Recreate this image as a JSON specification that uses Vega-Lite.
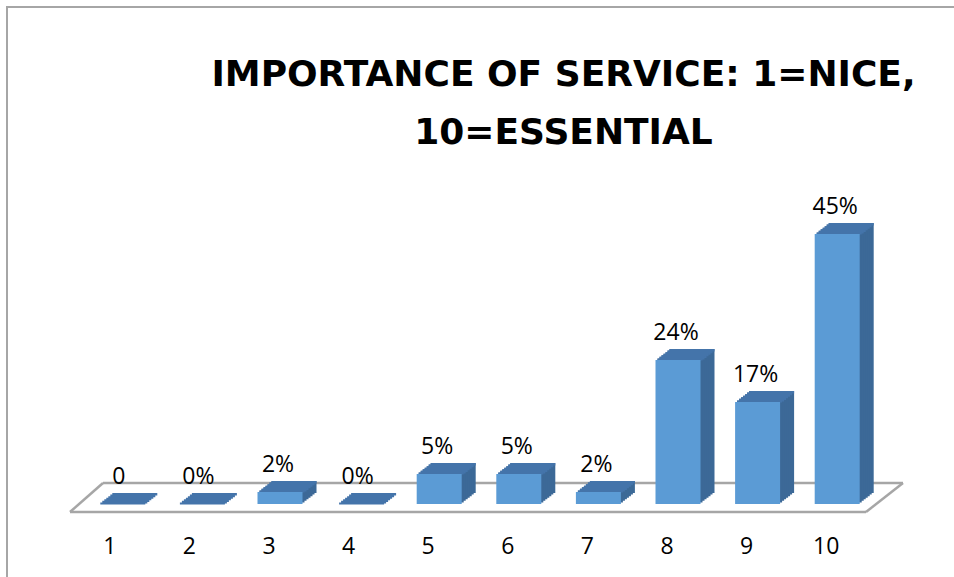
{
  "$schema": "https://vega.github.io/schema/vega-lite/v6.json",
  "width": 947,
  "height": 570,
  "autosize": "none",
  "padding": {"left": 7, "top": 7, "right": 0, "bottom": 0},
  "background": "white",
  "title": {
    "text": ["IMPORTANCE OF SERVICE: 1=NICE,", "10=ESSENTIAL"],
    "font": "DejaVu Sans",
    "fontWeight": "bold",
    "fontSize": 36,
    "lineHeight": 58,
    "color": "#000000",
    "anchor": "middle",
    "frame": "group",
    "dx": 83,
    "offset": -145
  },
  "datasets": {
    "floor": [{"first": "1", "last": "10", "base": 0}]
  },
  "data": {
    "values": [
      {"score": "1", "share": 0, "label": "0"},
      {"score": "2", "share": 0, "label": "0%"},
      {"score": "3", "share": 2, "label": "2%"},
      {"score": "4", "share": 0, "label": "0%"},
      {"score": "5", "share": 5, "label": "5%"},
      {"score": "6", "share": 5, "label": "5%"},
      {"score": "7", "share": 2, "label": "2%"},
      {"score": "8", "share": 24, "label": "24%"},
      {"score": "9", "share": 17, "label": "17%"},
      {"score": "10", "share": 45, "label": "45%"}
    ]
  },
  "encoding": {
    "x": {
      "field": "score",
      "type": "nominal",
      "sort": null,
      "scale": {"type": "band", "domain": ["1","2","3","4","5","6","7","8","9","10"], "range": [63, 859], "paddingInner": 0, "paddingOuter": 0},
      "axis": null
    },
    "y": {
      "field": "share",
      "type": "quantitative",
      "scale": {"domain": [0, 50], "range": [497, 197], "nice": false, "zero": true},
      "axis": null
    }
  },
  "layer": [
    {
      "data": {"name": "floor"},
      "mark": {"type": "rule", "color": "#a6a6a6", "strokeWidth": 2.5, "xOffset": -39.8, "x2Offset": 39.8, "yOffset": 8, "y2Offset": 8},
      "encoding": {"x": {"field": "first", "type": "nominal"}, "x2": {"field": "last"}, "y": {"field": "base", "type": "quantitative"}, "y2": {"field": "base"}}
    },
    {
      "data": {"name": "floor"},
      "mark": {"type": "rule", "color": "#a6a6a6", "strokeWidth": 2.5, "xOffset": -6.8, "x2Offset": 76.8, "yOffset": -21, "y2Offset": -21},
      "encoding": {"x": {"field": "first", "type": "nominal"}, "x2": {"field": "last"}, "y": {"field": "base", "type": "quantitative"}, "y2": {"field": "base"}}
    },
    {
      "data": {"name": "floor"},
      "mark": {"type": "rule", "color": "#a6a6a6", "strokeWidth": 2.5, "xOffset": -39.8, "x2Offset": -6.8, "yOffset": 8, "y2Offset": -21},
      "encoding": {"x": {"field": "first", "type": "nominal"}, "x2": {"field": "first"}, "y": {"field": "base", "type": "quantitative"}, "y2": {"field": "base"}}
    },
    {
      "data": {"name": "floor"},
      "mark": {"type": "rule", "color": "#a6a6a6", "strokeWidth": 2.5, "xOffset": 39.8, "x2Offset": 76.8, "yOffset": 8, "y2Offset": -21},
      "encoding": {"x": {"field": "last", "type": "nominal"}, "x2": {"field": "last"}, "y": {"field": "base", "type": "quantitative"}, "y2": {"field": "base"}}
    },
    {"mark": {"type": "bar", "width": 45, "color": "#3c6997", "xOffset": 25, "yOffset": -11, "y2Offset": -11}},
    {"mark": {"type": "bar", "width": 45, "color": "#3c6997", "xOffset": 23, "yOffset": -9.43, "y2Offset": -9.43}},
    {"mark": {"type": "bar", "width": 45, "color": "#3c6997", "xOffset": 21, "yOffset": -7.86, "y2Offset": -7.86}},
    {"mark": {"type": "bar", "width": 45, "color": "#3c6997", "xOffset": 19, "yOffset": -6.29, "y2Offset": -6.29}},
    {"mark": {"type": "bar", "width": 45, "color": "#3c6997", "xOffset": 17, "yOffset": -4.71, "y2Offset": -4.71}},
    {"mark": {"type": "bar", "width": 45, "color": "#3c6997", "xOffset": 15, "yOffset": -3.14, "y2Offset": -3.14}},
    {"mark": {"type": "bar", "width": 45, "color": "#3c6997", "xOffset": 13, "yOffset": -1.57, "y2Offset": -1.57}},
    {"mark": {"type": "bar", "width": 45, "color": "#4474aa", "xOffset": 25, "yOffset": -11, "y2Offset": -8.4}, "encoding": {"y2": {"field": "share"}}},
    {"mark": {"type": "bar", "width": 45, "color": "#4474aa", "xOffset": 23, "yOffset": -9.43, "y2Offset": -6.8}, "encoding": {"y2": {"field": "share"}}},
    {"mark": {"type": "bar", "width": 45, "color": "#4474aa", "xOffset": 21, "yOffset": -7.86, "y2Offset": -5.2}, "encoding": {"y2": {"field": "share"}}},
    {"mark": {"type": "bar", "width": 45, "color": "#4474aa", "xOffset": 19, "yOffset": -6.29, "y2Offset": -3.7}, "encoding": {"y2": {"field": "share"}}},
    {"mark": {"type": "bar", "width": 45, "color": "#4474aa", "xOffset": 17, "yOffset": -4.71, "y2Offset": -2.1}, "encoding": {"y2": {"field": "share"}}},
    {"mark": {"type": "bar", "width": 45, "color": "#4474aa", "xOffset": 15, "yOffset": -3.14, "y2Offset": -0.5}, "encoding": {"y2": {"field": "share"}}},
    {"mark": {"type": "bar", "width": 45, "color": "#4474aa", "xOffset": 13, "yOffset": -1.57, "y2Offset": 0.5}, "encoding": {"y2": {"field": "share"}}},
    {"mark": {"type": "bar", "width": 45, "color": "#5b9bd5", "xOffset": 11}},
    {
      "mark": {"type": "text", "font": "Open Sans", "fontSize": 23, "color": "#000000", "baseline": "middle", "align": "center", "xOffset": 9, "yOffset": -27},
      "encoding": {"text": {"field": "label"}}
    },
    {
      "mark": {"type": "text", "font": "Open Sans", "fontSize": 23, "color": "#000000", "baseline": "middle", "align": "center", "yOffset": 43},
      "encoding": {"y": {"datum": 0}, "text": {"field": "score"}}
    }
  ],
  "config": {
    "view": {"stroke": "#a6a6a6", "strokeWidth": 2, "strokeDash": [947, 1517, 570]}
  }
}
